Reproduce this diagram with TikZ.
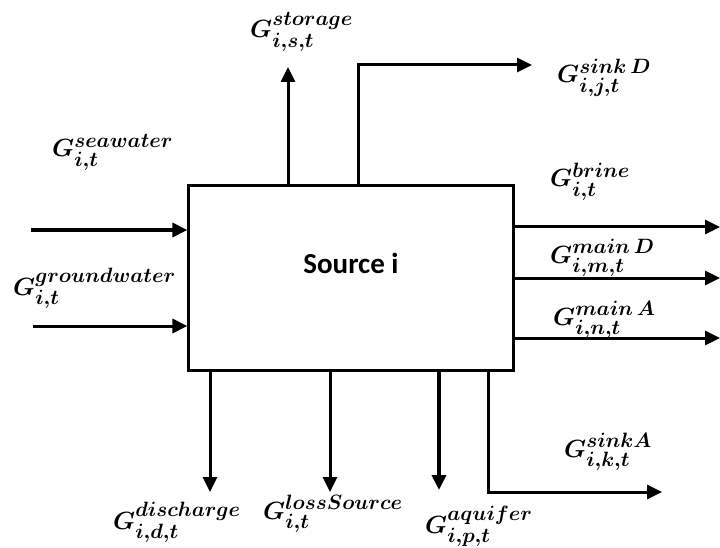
\documentclass[tikz,border=0pt]{standalone}
\usepackage{amsmath}
\usepackage{fontspec}
\newfontfamily\blockfont{Carlito}
\DeclareMathSizes{29}{29}{22.5}{17}
\usetikzlibrary{arrows.meta,positioning}

\begin{document}
\begin{tikzpicture}[x=1pt, y=-1pt, >={Triangle[length=15pt,width=14pt]},
    flow/.style={->, line width=3pt},
    flowlbl/.style={anchor=base west, inner sep=0pt, font=\fontsize{29}{31}\selectfont\boldmath}]
    \useasboundingbox (0,0) rectangle (720,548);

    % Source block
    \node[draw, line width=2.2pt, minimum width=325pt, minimum height=185pt, inner sep=0pt] (src) at (351,278) {};
    \node[anchor=base, inner sep=0pt, font=\blockfont\bfseries\fontsize{29}{31}\selectfont] (srcname) at (351,273) {Source i};

    % Inflows (left)
    \coordinate (seaIn) at (31,230);
    \coordinate (gwIn) at (33,326);
    \draw[flow] (seaIn) -- (seaIn -| src.west);
    \draw[flow] (gwIn) -- (gwIn -| src.west);
    \node[flowlbl] (sea) at (52,157) {$G_{i,t}^{seawater}$};
    \node[flowlbl] (gw) at (13,295) {$G_{i,t}^{groundwater}$};

    % Outflows (top)
    \coordinate (stoOut) at (288,67);
    \coordinate (sinkDOut) at (532,65);
    \draw[flow] (stoOut |- src.north) -- (stoOut);
    \draw[flow] (src.north -| 358,0) |- (sinkDOut);
    \node[flowlbl] (sto) at (250,38) {$G_{i,s,t}^{storage}$};
    \node[flowlbl] (sinkD) at (557,83) {$G_{i,j,t}^{sink\,D}$};

    % Outflows (right)
    \coordinate (brineOut) at (720,227);
    \coordinate (mainDOut) at (720,278);
    \coordinate (mainAOut) at (720,338);
    \draw[flow] (brineOut -| src.east) -- (brineOut);
    \draw[flow] (mainDOut -| src.east) -- (mainDOut);
    \draw[flow] (mainAOut -| src.east) -- (mainAOut);
    \node[flowlbl] (brine) at (550,187) {$G_{i,t}^{brine}$};
    \node[flowlbl] (mainD) at (550,263) {$G_{i,m,t}^{main\,D}$};
    \node[flowlbl] (mainA) at (553,325) {$G_{i,n,t}^{main\,A}$};

    % Outflows (bottom)
    \coordinate (dischOut) at (210,492);
    \coordinate (lossOut) at (330,492);
    \coordinate (aqOut) at (439,490);
    \coordinate (sinkAOut) at (662,492);
    \draw[flow] (dischOut |- src.south) -- (dischOut);
    \draw[flow] (lossOut |- src.south) -- (lossOut);
    \draw[flow, line width=3.6pt] (aqOut |- src.south) ++(0,-3) -- (aqOut);
    \draw[flow] (src.south -| 488,0) |- (sinkAOut);
    \node[flowlbl] (disch) at (113,529) {$G_{i,d,t}^{discharge}$};
    \node[flowlbl] (loss) at (263,519) {$G_{i,t}^{lossSource}$};
    \node[flowlbl] (aq) at (425,533) {$G_{i,p,t}^{aquifer}$};
    \node[flowlbl] (sinkA) at (564,457) {$G_{i,k,t}^{sinkA}$};
\end{tikzpicture}
\end{document}
